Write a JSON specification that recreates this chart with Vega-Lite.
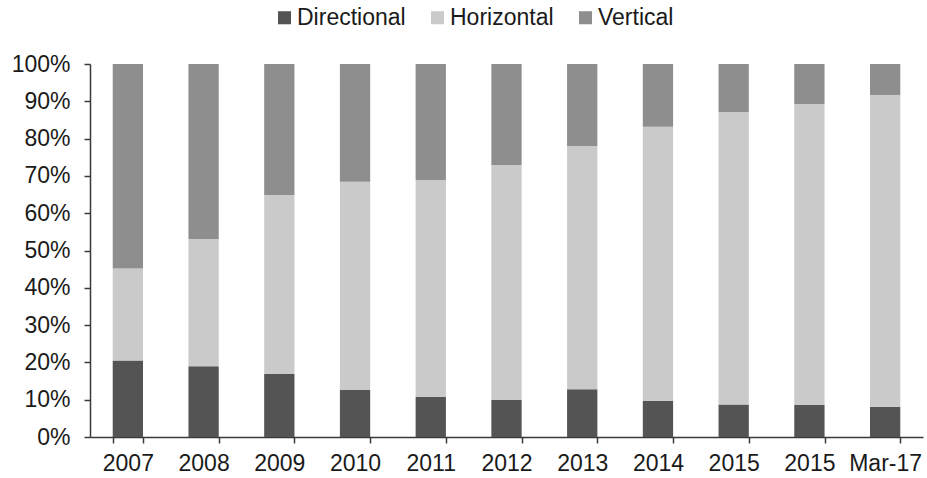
{
  "$schema": "https://vega.github.io/schema/vega-lite/v6.json",
  "width": 833,
  "height": 373,
  "autosize": {"type": "none"},
  "padding": {"left": 90, "top": 64, "right": 4, "bottom": 41},
  "background": "white",
  "config": {
    "view": {"stroke": null},
    "font": "Liberation Sans",
    "axis": {"labelFont": "Liberation Sans", "labelFontSize": 23, "labelColor": "#1a1a1a", "domainColor": "#3a3a3a", "tickColor": "#3a3a3a", "domainWidth": 1.5, "tickWidth": 1.5, "grid": false, "title": null}
  },
  "data": {
    "values": [
      {"period": "2007", "type": "Directional", "share": 20.5},
      {"period": "2007", "type": "Horizontal", "share": 24.7},
      {"period": "2007", "type": "Vertical", "share": 54.8},
      {"period": "2008", "type": "Directional", "share": 19.0},
      {"period": "2008", "type": "Horizontal", "share": 34.1},
      {"period": "2008", "type": "Vertical", "share": 46.9},
      {"period": "2009", "type": "Directional", "share": 16.9},
      {"period": "2009", "type": "Horizontal", "share": 48.0},
      {"period": "2009", "type": "Vertical", "share": 35.1},
      {"period": "2010", "type": "Directional", "share": 12.6},
      {"period": "2010", "type": "Horizontal", "share": 55.8},
      {"period": "2010", "type": "Vertical", "share": 31.6},
      {"period": "2011", "type": "Directional", "share": 10.8},
      {"period": "2011", "type": "Horizontal", "share": 58.1},
      {"period": "2011", "type": "Vertical", "share": 31.1},
      {"period": "2012", "type": "Directional", "share": 9.9},
      {"period": "2012", "type": "Horizontal", "share": 63.0},
      {"period": "2012", "type": "Vertical", "share": 27.1},
      {"period": "2013", "type": "Directional", "share": 12.8},
      {"period": "2013", "type": "Horizontal", "share": 65.2},
      {"period": "2013", "type": "Vertical", "share": 22.0},
      {"period": "2014", "type": "Directional", "share": 9.7},
      {"period": "2014", "type": "Horizontal", "share": 73.5},
      {"period": "2014", "type": "Vertical", "share": 16.8},
      {"period": "2015", "type": "Directional", "share": 8.7},
      {"period": "2015", "type": "Horizontal", "share": 78.4},
      {"period": "2015", "type": "Vertical", "share": 12.9},
      {"period": "2015#2", "type": "Directional", "share": 8.6},
      {"period": "2015#2", "type": "Horizontal", "share": 80.7},
      {"period": "2015#2", "type": "Vertical", "share": 10.7},
      {"period": "Mar-17", "type": "Directional", "share": 8.1},
      {"period": "Mar-17", "type": "Horizontal", "share": 83.6},
      {"period": "Mar-17", "type": "Vertical", "share": 8.3}
    ]
  },
  "mark": {"type": "bar"},
  "encoding": {
    "x": {
      "field": "period",
      "type": "nominal",
      "sort": null,
      "scale": {"paddingInner": 0.6, "paddingOuter": 0.3},
      "axis": {"labelAngle": 0, "tickBand": "extent", "tickSize": 6, "labelPadding": 9, "labelExpr": "replace(datum.label, '#2', '')"}
    },
    "y": {
      "field": "share",
      "type": "quantitative",
      "stack": "normalize",
      "scale": {"domain": [0, 1], "nice": false},
      "axis": {"values": [0, 0.1, 0.2, 0.3, 0.4, 0.5, 0.6, 0.7, 0.8, 0.9, 1], "format": ".0%", "tickSize": 6, "labelPadding": 14}
    },
    "order": {"field": "type", "sort": "ascending"},
    "color": {
      "field": "type",
      "type": "nominal",
      "scale": {"domain": ["Directional", "Horizontal", "Vertical"], "range": ["#545454", "#cacaca", "#8e8e8e"]},
      "legend": {
        "title": null,
        "orient": "none",
        "direction": "horizontal",
        "legendX": 183,
        "legendY": -58,
        "symbolType": "square",
        "symbolSize": 170,
        "symbolStrokeWidth": 0,
        "labelFont": "Liberation Sans",
        "labelFontSize": 23,
        "labelColor": "#1a1a1a",
        "labelOffset": 1,
        "columnPadding": 20
      }
    }
  }
}
